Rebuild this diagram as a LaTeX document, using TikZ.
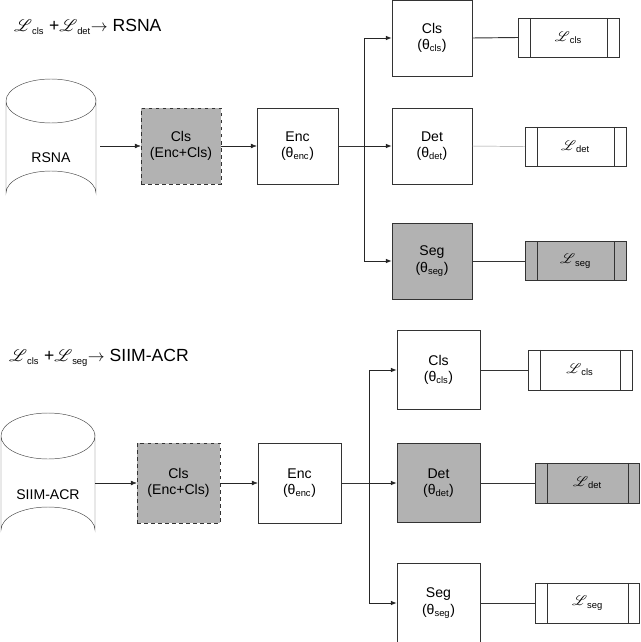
\documentclass[tikz,border=0pt]{standalone}
\usepackage{fontspec}
\usepackage{mathrsfs}
\setmainfont{Liberation Sans}
\usetikzlibrary{arrows.meta}
\begin{document}
\begin{tikzpicture}[x=0.03cm,y=-0.03cm,
  box/.style={draw=black!80,fill=white,align=center,inner sep=0pt,font=\fontsize{12}{14}\selectfont},
  gbox/.style={box,fill=black!30},
  loss/.style={draw=black!80,fill=white,inner sep=0pt,font=\fontsize{12}{14}\selectfont},
  gloss/.style={loss,fill=black!30},
  ttl/.style={anchor=west,font=\fontsize{15}{17}\selectfont},
  arr/.style={-{Latex[length=5pt,width=4pt]},black!85},
  ln/.style={black!80,thick}]
\useasboundingbox (0,0) rectangle (640,642);
\newcommand{\sub}[1]{\textsubscript{\fontsize{8}{9}\selectfont #1}}
\newcommand{\Ls}[1]{$\mathscr{L}$\sub{#1}}
\newcommand{\lossbars}[1]{\draw[black!80] ([xshift=0.36cm]#1.north west) -- ([xshift=0.36cm]#1.south west);
  \draw[black!80] ([xshift=-0.36cm]#1.north east) -- ([xshift=-0.36cm]#1.south east);}
% ---------- top ----------
\node[ttl] (t1) at (10,27) {\Ls{cls} +\Ls{det}$\rightarrow$ RSNA};
\draw[black!70,fill=white] (6,101) -- (6,193) arc[start angle=180,end angle=360,x radius=45,y radius=22] -- (96,101) arc[start angle=0,end angle=180,x radius=45,y radius=22];
\draw[black!70] (6,101) arc[start angle=180,end angle=360,x radius=45,y radius=22];
\node[font=\fontsize{12}{14}\selectfont] (cy1) at (51,158) {RSNA};
\node[gbox,dashed,minimum width=2.4cm,minimum height=2.28cm] (c1) at (181,146) {Cls\\(Enc+Cls)};
\node[box,minimum width=2.43cm,minimum height=2.28cm] (e1) at (297.5,146) {Enc\\(θ\sub{enc})};
\node[box,minimum width=2.4cm,minimum height=2.28cm] (h1) at (432,38) {Cls\\(θ\sub{cls})};
\node[box,minimum width=2.4cm,minimum height=2.28cm] (d1) at (432,146) {Det\\(θ\sub{det})};
\node[gbox,minimum width=2.4cm,minimum height=2.28cm] (s1) at (432,261) {Seg\\(θ\sub{seg})};
\node[loss,minimum width=3.03cm,minimum height=1.17cm] (lc1) at (568.5,37.5) {\Ls{cls}};
\node[loss,minimum width=3.03cm,minimum height=1.17cm] (ld1) at (575.5,146.5) {\Ls{det}};
\node[gloss,minimum width=3.03cm,minimum height=1.17cm] (ls1) at (575.5,261) {\Ls{seg}};
\lossbars{lc1}\lossbars{ld1}\lossbars{ls1}
\coordinate (b1) at (364,146);
\coordinate (cy1e) at (100,146);
\draw[arr] (cy1e) -- (c1.west);
\draw[arr] (c1.east) -- (e1.west);
\draw[ln] (e1.east) -- (b1);
\draw[arr,thick] (b1) |- (h1.west);
\draw[arr,thick] (b1) -- (d1.west);
\draw[arr,thick] (b1) |- (s1.west);
\draw[ln] (h1.east) -- (lc1.west);
\draw[black!40] (d1.east) -- (ld1.west);
\draw[ln] (s1.east) -- (ls1.west);
% ---------- bottom ----------
\node[ttl] (t2) at (5,358) {\Ls{cls} +\Ls{seg}$\rightarrow$ SIIM-ACR};
\draw[black!70,fill=white] (1,436) -- (1,530) arc[start angle=180,end angle=360,x radius=47,y radius=23] -- (95,436) arc[start angle=0,end angle=180,x radius=47,y radius=23];
\draw[black!70] (1,436) arc[start angle=180,end angle=360,x radius=47,y radius=23];
\node (cy2t) at (48,495) [font=\fontsize{12}{14}\selectfont] {SIIM-ACR};
\node[gbox,dashed,minimum width=2.49cm,minimum height=2.4cm] (c2) at (178.5,483) {Cls\\(Enc+Cls)};
\node[box,minimum width=2.49cm,minimum height=2.4cm] (e2) at (299.5,483) {Enc\\(θ\sub{enc})};
\node[box,minimum width=2.49cm,minimum height=2.37cm] (h2) at (438.5,370) {Cls\\(θ\sub{cls})};
\node[gbox,minimum width=2.49cm,minimum height=2.37cm] (d2) at (438.5,483) {Det\\(θ\sub{det})};
\node[box,minimum width=2.49cm,minimum height=2.37cm] (s2) at (438.5,603) {Seg\\(θ\sub{seg})};
\node[loss,minimum width=3.12cm,minimum height=1.2cm] (lc2) at (580,370) {\Ls{cls}};
\node[gloss,minimum width=3.12cm,minimum height=1.2cm] (ld2) at (587.5,483) {\Ls{det}};
\node[loss,minimum width=3.12cm,minimum height=1.2cm] (ls2) at (587.5,603) {\Ls{seg}};
\lossbars{lc2}\lossbars{ld2}\lossbars{ls2}
\coordinate (b2) at (369,483);
\coordinate (cy2e) at (95,483);
\draw[arr] (cy2e) -- (c2.west);
\draw[arr] (c2.east) -- (e2.west);
\draw[ln] (e2.east) -- (b2);
\draw[arr,thick] (b2) |- (h2.west);
\draw[arr,thick] (b2) -- (d2.west);
\draw[arr,thick] (b2) |- (s2.west);
\draw[ln] (h2.east) -- (lc2.west);
\draw[ln] (d2.east) -- (ld2.west);
\draw[ln] (s2.east) -- (ls2.west);
\end{tikzpicture}
\end{document}
